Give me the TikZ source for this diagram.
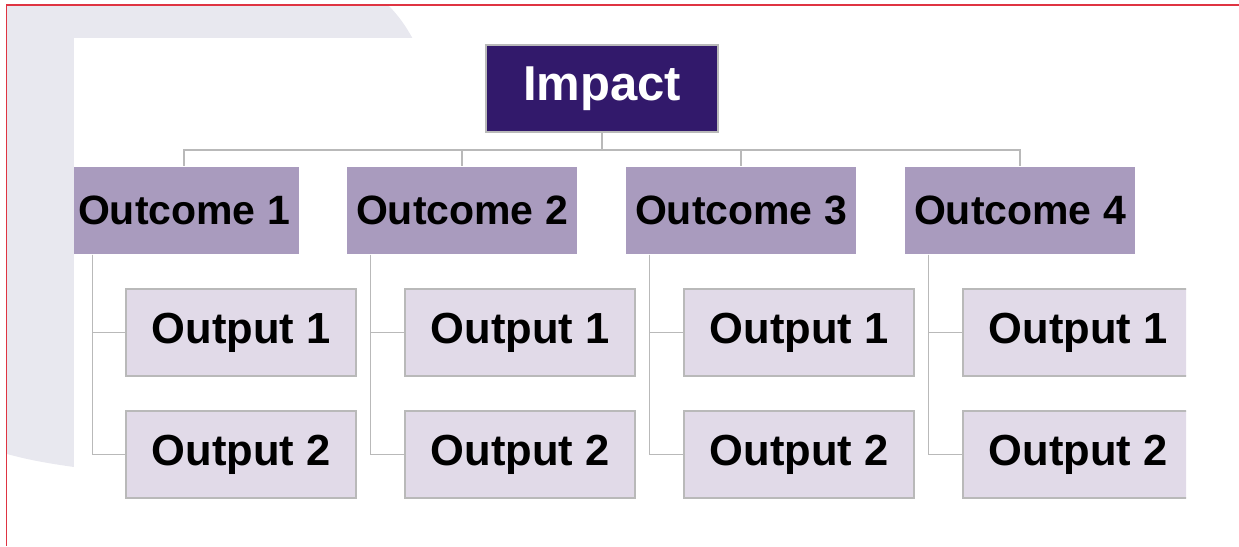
\documentclass[tikz,border=0pt]{standalone}
\usepackage{fontspec}
\setmainfont{Liberation Sans}
\usepackage{tikz}
\definecolor{impactcol}{HTML}{32196B}
\definecolor{outcomecol}{HTML}{A99BBE}
\definecolor{outputcol}{HTML}{E1DAE8}
\definecolor{bgcol}{HTML}{E8E8EF}
\definecolor{framecol}{HTML}{DF3442}
\definecolor{linecol}{HTML}{B9B9B9}

\begin{document}
\begin{tikzpicture}[x=1pt, y=-1pt,
    box/.style = {draw=linecol, line width=1.4pt, minimum width=230pt, minimum height=87pt, inner sep=0pt, font=\bfseries},
    impactbox/.style = {box, fill=impactcol, text=white, minimum width=232pt, font=\bfseries\fontsize{49}{49}\selectfont},
    outcomebox/.style = {box, draw=none, fill=outcomecol, font=\bfseries\fontsize{41}{41}\selectfont},
    outputbox/.style = {box, fill=outputcol, font=\bfseries\fontsize{43.5}{43.5}\selectfont},
    link/.style = {draw=linecol, line width=1.6pt}]
	\useasboundingbox (0,0) rectangle (1239,546);
	% page behind the chart
	\fill[bgcol] (7,5) -- (388,5) .. controls (398,15) and (407,27) .. (416,45) -- (416,480)
	    -- (74,467) .. controls (45,463) and (25,459) .. (7,454) -- cycle;
	\fill[white] (74,38) rectangle (1186,510);
	\draw[framecol, line width=1.5pt] (1239,5) -- (6.5,5) -- (6.5,546);
	\begin{scope}
	\clip (74,38) rectangle (1186,510);
	\node[impactbox] (impact) at (602,88.5){Impact};
	\node[outcomebox] (oc1) at (184,210.5){Outcome 1};
	\node[outcomebox] (oc2) at (462,210.5){Outcome 2};
	\node[outcomebox] (oc3) at (741,210.5){Outcome 3};
	\node[outcomebox] (oc4) at (1020,210.5){Outcome 4};
	\node[outputbox] (op11) at (241,332.5){Output 1};
	\node[outputbox] (op12) at (241,454.5){Output 2};
	\node[outputbox] (op21) at (520,332.5){Output 1};
	\node[outputbox] (op22) at (520,454.5){Output 2};
	\node[outputbox] (op31) at (799,332.5){Output 1};
	\node[outputbox] (op32) at (799,454.5){Output 2};
	\node[outputbox] (op41) at (1078,332.5){Output 1};
	\node[outputbox] (op42) at (1078,454.5){Output 2};
	\draw[link] (impact.south) -- ++(0,17) -| (oc1.north);
	\draw[link] (impact.south) -- ++(0,17) -| (oc2.north);
	\draw[link] (impact.south) -- ++(0,17) -| (oc3.north);
	\draw[link] (impact.south) -- ++(0,17) -| (oc4.north);
	\draw[link] ([xshift=24pt]oc1.south west) |- (op11.west);
	\draw[link] ([xshift=24pt]oc1.south west) |- (op12.west);
	\draw[link] ([xshift=24pt]oc2.south west) |- (op21.west);
	\draw[link] ([xshift=24pt]oc2.south west) |- (op22.west);
	\draw[link] ([xshift=24pt]oc3.south west) |- (op31.west);
	\draw[link] ([xshift=24pt]oc3.south west) |- (op32.west);
	\draw[link] ([xshift=24pt]oc4.south west) |- (op41.west);
	\draw[link] ([xshift=24pt]oc4.south west) |- (op42.west);
	\end{scope}
\end{tikzpicture}
\end{document}
